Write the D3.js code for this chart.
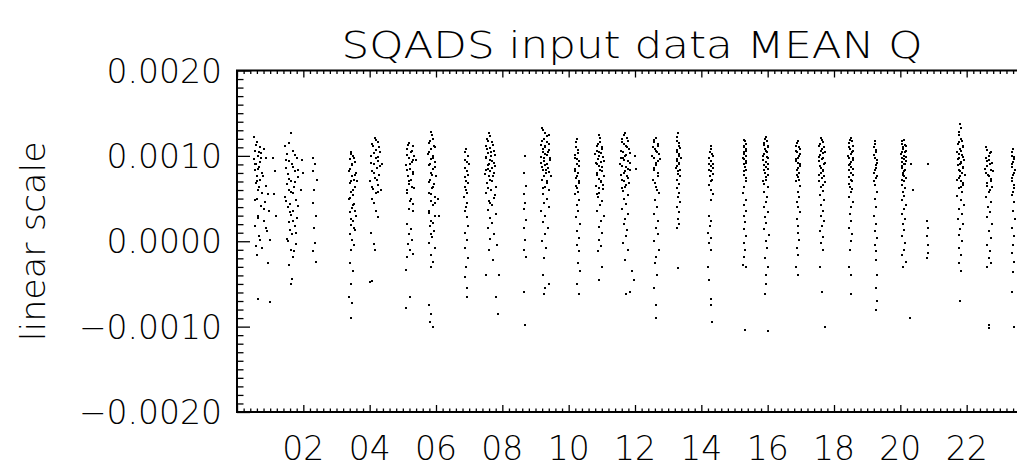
<!DOCTYPE html>
<html><head><meta charset="utf-8">
<script src="https://cdn.jsdelivr.net/npm/d3@7"></script>
<style>
html,body{margin:0;padding:0;background:#fff;overflow:hidden;}
svg{display:block;}
text{font-family:"DejaVu Sans",sans-serif;font-weight:200;fill:#000;}
</style></head>
<body><svg id="c" width="1017" height="473"></svg>
<script>
const titleText = "SQADS input data MEAN Q";
const yAxisTitle = "linear scale";
const yTickValues = [-0.0020, -0.0010, 0.0000, 0.0010, 0.0020];
const yTickLabels = ["\u22120.0020", "\u22120.0010", "0.0000", "0.0010", "0.0020"];
const xTickValues = [2, 4, 6, 8, 10, 12, 14, 16, 18, 20, 22];
const xTickLabels = ["02","04","06","08","10","12","14","16","18","20","22"];
const xDomain = [0, 24];
const yDomain = [-0.0020, 0.0020];

// [hour, value] per pass
const passA = [[0.52,0.00122],[0.60,0.00116],[0.68,0.00110],[0.55,0.00106],[0.73,0.00103],[0.63,0.00100],[0.50,0.00096],[0.70,0.00093],[0.58,0.00090],[0.66,0.00087],[0.54,0.00083],[0.75,0.00080],[0.61,0.00076],[0.69,0.00072],[0.56,0.00068],[0.88,0.00065],[0.64,0.00060],[0.92,0.00055],[0.59,0.00050],[0.85,0.00046],[0.71,0.00041],[0.95,0.00036],[0.62,0.00030],[0.82,0.00024],[0.53,0.00018],[0.90,0.00012],[0.67,0.00006],[0.98,0.00001],[0.76,-0.00008],[0.60,-0.00016],[0.93,-0.00026],[0.63,-0.00068],[0.99,-0.00071],[1.08,0.00098],[1.15,0.00082],[1.12,0.00055],[1.18,0.00030],[0.87,0.00098],[0.80,0.00108],
  [0.57,0.00113],[0.65,0.00105],[0.71,0.00098],[0.53,0.00091],[0.62,0.00085],[0.77,0.00077],[0.59,0.00071],[0.67,0.00064],[0.74,0.00057],[0.55,0.00048],[0.80,0.00038],[0.64,0.00027],[0.86,0.00015],[0.70,0.00002],[0.57,-0.00005]];
const passB = [[1.62,0.00127],[1.45,0.00112],[1.70,0.00106],[1.52,0.00102],[1.80,0.00098],[1.58,0.00094],[1.66,0.00090],[1.48,0.00086],[1.75,0.00082],[1.55,0.00079],[1.85,0.00075],[1.62,0.00071],[1.50,0.00067],[1.72,0.00064],[1.58,0.00060],[1.68,0.00056],[1.45,0.00052],[1.78,0.00048],[1.60,0.00044],[1.53,0.00040],[1.70,0.00036],[1.64,0.00031],[1.82,0.00027],[1.56,0.00022],[1.74,0.00018],[1.60,0.00013],[1.66,0.00008],[1.50,0.00003],[1.77,-0.00003],[1.62,-0.00010],[1.70,-0.00018],[1.58,-0.00028],[1.65,-0.00044],[1.64,-0.00050],[1.95,0.00095],[2.00,0.00080],[1.92,0.00060],
  [1.58,0.00115],[1.74,0.00101],[1.49,0.00095],[1.68,0.00087],[1.83,0.00083],[1.56,0.00073],[1.76,0.00069],[1.64,0.00058],[1.48,0.00047],[1.84,0.00041],[1.59,0.00034],[1.68,0.00024],[1.78,0.00010],[1.55,0.00000],[1.72,-0.00012]];
const passC = [[2.30,0.00098],[2.36,0.00090],[2.28,0.00082],[2.40,0.00072],[2.33,0.00060],[2.30,0.00045],[2.38,0.00030],[2.32,0.00015],[2.35,-0.00002],[2.30,-0.00012],[2.37,-0.00024]];
const passD = [[3.45,0.00105],[3.50,0.00100],[3.40,0.00096],[3.55,0.00093],[3.48,0.00089],[3.42,0.00085],[3.58,0.00080],[3.46,0.00076],[3.52,0.00072],[3.40,0.00068],[3.56,0.00063],[3.44,0.00058],[3.50,0.00054],[3.38,0.00049],[3.54,0.00044],[3.47,0.00039],[3.42,0.00034],[3.58,0.00029],[3.50,0.00024],[3.44,0.00019],[3.55,0.00013],[3.40,0.00008],[3.48,0.00002],[3.52,-0.00004],[3.45,-0.00010],[3.40,-0.00025],[3.50,-0.00035],[3.43,-0.00050],[3.38,-0.00065],[3.48,-0.00072],[3.45,-0.00090],[3.62,0.00070],
  [3.43,0.00102],[3.53,0.00097],[3.47,0.00091],[3.39,0.00082],[3.55,0.00078],[3.45,0.00070],[3.51,0.00060],[3.41,0.00051],[3.49,0.00042],[3.56,0.00036],[3.44,0.00026],[3.52,0.00016]];
const passE = [[4.15,0.00121],[4.25,0.00116],[4.10,0.00111],[4.20,0.00107],[4.30,0.00104],[4.05,0.00100],[4.18,0.00097],[4.26,0.00094],[4.12,0.00090],[4.22,0.00086],[4.08,0.00082],[4.28,0.00078],[4.16,0.00074],[4.02,0.00070],[4.24,0.00066],[4.10,0.00061],[4.20,0.00056],[4.06,0.00050],[4.18,0.00036],[4.25,0.00028],[4.05,0.00010],[4.12,-0.00003],[4.15,-0.00010],[4.02,-0.00048],[4.08,-0.00046],[4.38,0.00090],[4.35,0.00060],
  [4.20,0.00119],[4.08,0.00114],[4.28,0.00110],[4.14,0.00103],[4.24,0.00099],[4.04,0.00092],[4.30,0.00088],[4.14,0.00080],[4.22,0.00072],[4.08,0.00064],[4.26,0.00058],[4.12,0.00045]];
const passF = [[5.20,0.00115],[5.30,0.00112],[5.12,0.00108],[5.25,0.00104],[5.35,0.00100],[5.18,0.00097],[5.28,0.00093],[5.10,0.00089],[5.22,0.00085],[5.32,0.00081],[5.15,0.00077],[5.26,0.00072],[5.20,0.00067],[5.34,0.00062],[5.12,0.00056],[5.24,0.00050],[5.30,0.00044],[5.18,0.00038],[5.14,0.00020],[5.25,0.00014],[5.20,0.00008],[5.28,0.00002],[5.16,-0.00003],[5.22,-0.00010],[5.12,-0.00018],[5.30,-0.00015],[5.10,-0.00034],[5.22,-0.00065],[5.10,-0.00078],[5.40,0.00095],
  [5.16,0.00113],[5.28,0.00106],[5.14,0.00101],[5.32,0.00095],[5.22,0.00091],[5.12,0.00083],[5.30,0.00079],[5.18,0.00070],[5.28,0.00064],[5.14,0.00060],[5.22,0.00047],[5.32,0.00035]];
const passG = [[5.85,0.00128],[5.90,0.00120],[5.80,0.00115],[5.95,0.00112],[5.86,0.00108],[5.78,0.00104],[5.92,0.00100],[5.84,0.00096],[5.98,0.00093],[5.80,0.00089],[5.90,0.00085],[5.86,0.00080],[6.00,0.00076],[5.82,0.00072],[5.94,0.00067],[5.88,0.00062],[5.78,0.00057],[5.96,0.00052],[5.84,0.00047],[5.92,0.00042],[5.80,0.00036],[5.98,0.00030],[5.86,0.00024],[5.82,0.00018],[5.94,0.00012],[5.88,0.00005],[5.80,-0.00002],[5.96,-0.00008],[5.86,-0.00016],[5.92,-0.00024],[5.84,-0.00030],[5.80,-0.00075],[5.86,-0.00085],[5.82,-0.00095],[5.90,-0.00100],[6.05,0.00050],[6.08,0.00030],
  [5.88,0.00124],[5.82,0.00117],[5.97,0.00110],[5.76,0.00102],[5.90,0.00098],[5.82,0.00091],[5.96,0.00087],[5.88,0.00078],[5.78,0.00069],[5.92,0.00064],[5.84,0.00055],[5.98,0.00045],[5.80,0.00033],[5.90,0.00021],[5.84,0.00009]];
const passH = [[6.90,0.00108],[6.95,0.00100],[6.86,0.00095],[6.98,0.00090],[6.92,0.00082],[6.88,0.00075],[6.96,0.00068],[6.90,0.00060],[6.85,0.00052],[6.94,0.00045],[6.88,0.00036],[6.92,0.00028],[6.96,0.00018],[6.88,0.00010],[6.92,0.00002],[6.86,-0.00008],[6.95,-0.00020],[6.90,-0.00030],[6.88,-0.00042],[6.94,-0.00055],[6.92,-0.00065],
  [6.88,0.00104],[6.94,0.00093],[6.86,0.00086],[6.96,0.00078],[6.90,0.00071],[6.86,0.00064],[6.94,0.00056],[6.90,0.00040]];
const passI = [[7.60,0.00127],[7.55,0.00120],[7.68,0.00116],[7.50,0.00112],[7.62,0.00109],[7.74,0.00106],[7.58,0.00103],[7.66,0.00100],[7.52,0.00097],[7.70,0.00094],[7.60,0.00091],[7.78,0.00088],[7.56,0.00085],[7.64,0.00082],[7.48,0.00079],[7.72,0.00076],[7.62,0.00072],[7.55,0.00068],[7.80,0.00064],[7.66,0.00060],[7.52,0.00056],[7.74,0.00051],[7.60,0.00047],[7.68,0.00042],[7.58,0.00037],[7.82,0.00032],[7.64,0.00027],[7.70,0.00021],[7.56,0.00015],[7.76,0.00009],[7.62,0.00003],[7.84,-0.00004],[7.60,-0.00010],[7.72,-0.00022],[7.50,-0.00040],[7.90,-0.00040],[7.80,-0.00065],[7.88,-0.00085],
  [7.64,0.00123],[7.58,0.00118],[7.72,0.00113],[7.54,0.00108],[7.66,0.00105],[7.78,0.00101],[7.50,0.00099],[7.62,0.00095],[7.76,0.00092],[7.58,0.00089],[7.68,0.00086],[7.52,0.00083],[7.74,0.00080],[7.60,0.00077],[7.70,0.00070],[7.56,0.00062],[7.78,0.00054],[7.64,0.00045]];
const passJ = [[8.68,0.00100],[8.65,0.00080],[8.70,0.00065],[8.66,0.00055],[8.68,0.00045],[8.64,0.00038],[8.70,0.00025],[8.66,0.00015],[8.68,0.00002],[8.65,-0.00010],[8.70,-0.00018],[8.66,-0.00060],[8.68,-0.00098]];
const passK = [[9.20,0.00133],[9.28,0.00127],[9.40,0.00125],[9.25,0.00120],[9.35,0.00116],[9.18,0.00113],[9.30,0.00110],[9.42,0.00107],[9.22,0.00104],[9.34,0.00101],[9.26,0.00098],[9.45,0.00095],[9.16,0.00092],[9.30,0.00089],[9.38,0.00086],[9.24,0.00083],[9.32,0.00080],[9.48,0.00076],[9.20,0.00072],[9.36,0.00068],[9.28,0.00064],[9.42,0.00060],[9.22,0.00055],[9.34,0.00050],[9.26,0.00045],[9.40,0.00040],[9.18,0.00035],[9.30,0.00030],[9.24,0.00022],[9.38,0.00015],[9.28,0.00008],[9.20,0.00000],[9.32,-0.00008],[9.26,-0.00020],[9.22,-0.00040],[9.30,-0.00055],[9.25,-0.00062],[9.40,-0.00050],
  [9.24,0.00130],[9.34,0.00123],[9.20,0.00118],[9.40,0.00114],[9.28,0.00112],[9.22,0.00108],[9.38,0.00104],[9.30,0.00102],[9.18,0.00099],[9.44,0.00097],[9.26,0.00094],[9.36,0.00091],[9.20,0.00087],[9.32,0.00084],[9.42,0.00081],[9.26,0.00077],[9.34,0.00070],[9.22,0.00062]];
const passL = [[10.25,0.00120],[10.22,0.00110],[10.28,0.00103],[10.20,0.00098],[10.30,0.00094],[10.24,0.00090],[10.18,0.00085],[10.28,0.00080],[10.22,0.00074],[10.32,0.00068],[10.26,0.00062],[10.20,0.00055],[10.30,0.00048],[10.24,0.00042],[10.28,0.00035],[10.22,0.00028],[10.34,0.00020],[10.26,0.00012],[10.30,0.00004],[10.24,-0.00004],[10.32,-0.00012],[10.28,-0.00025],[10.34,-0.00035],[10.26,-0.00050],[10.30,-0.00062],
  [10.22,0.00116],[10.28,0.00107],[10.18,0.00101],[10.26,0.00096],[10.32,0.00088],[10.20,0.00082],[10.26,0.00077],[10.30,0.00071],[10.22,0.00065],[10.28,0.00058]];
const passM = [[10.90,0.00125],[10.95,0.00116],[10.85,0.00112],[11.00,0.00108],[10.92,0.00105],[10.80,0.00102],[11.05,0.00099],[10.88,0.00096],[10.98,0.00093],[10.84,0.00090],[11.02,0.00087],[10.94,0.00084],[10.86,0.00080],[11.08,0.00077],[10.90,0.00073],[10.98,0.00069],[10.82,0.00065],[11.04,0.00061],[10.92,0.00057],[10.88,0.00052],[11.00,0.00047],[10.94,0.00042],[10.86,0.00036],[11.06,0.00030],[10.96,0.00024],[10.90,0.00017],[11.02,0.00010],[10.92,0.00002],[10.98,-0.00005],[10.88,-0.00012],[11.00,-0.00030],[10.92,-0.00045],
  [10.94,0.00121],[10.88,0.00114],[11.02,0.00110],[10.84,0.00106],[10.96,0.00103],[10.90,0.00100],[11.06,0.00094],[10.82,0.00092],[10.92,0.00088],[11.00,0.00082],[10.86,0.00078],[10.96,0.00071],[11.04,0.00066],[10.90,0.00062],[10.84,0.00055]];
const passN = [[11.70,0.00127],[11.62,0.00120],[11.80,0.00118],[11.66,0.00114],[11.75,0.00110],[11.58,0.00106],[11.84,0.00103],[11.70,0.00100],[11.64,0.00097],[11.78,0.00094],[11.56,0.00090],[11.72,0.00087],[11.86,0.00084],[11.66,0.00080],[11.76,0.00076],[11.60,0.00072],[11.82,0.00068],[11.70,0.00064],[11.64,0.00059],[11.78,0.00054],[11.68,0.00049],[11.74,0.00044],[11.62,0.00038],[11.80,0.00032],[11.70,0.00026],[11.66,0.00020],[11.76,0.00013],[11.72,0.00006],[11.64,-0.00002],[11.80,-0.00010],[11.70,-0.00022],[11.90,-0.00035],[11.96,-0.00045],[11.85,-0.00060],[11.74,-0.00062],[12.00,0.00100],[12.04,0.00085],
  [11.66,0.00124],[11.76,0.00121],[11.60,0.00116],[11.72,0.00112],[11.82,0.00108],[11.64,0.00104],[11.74,0.00101],[11.58,0.00098],[11.68,0.00095],[11.84,0.00092],[11.62,0.00088],[11.78,0.00085],[11.70,0.00082],[11.58,0.00078],[11.80,0.00074],[11.66,0.00070],[11.74,0.00066],[11.62,0.00062]];
const passO = [[12.62,0.00121],[12.56,0.00116],[12.70,0.00112],[12.60,0.00108],[12.66,0.00104],[12.52,0.00100],[12.74,0.00096],[12.62,0.00092],[12.58,0.00086],[12.68,0.00080],[12.54,0.00072],[12.64,0.00064],[12.72,0.00056],[12.60,0.00048],[12.66,0.00040],[12.56,0.00032],[12.70,0.00024],[12.62,0.00016],[12.68,0.00008],[12.58,0.00000],[12.72,-0.00010],[12.64,-0.00018],[12.60,-0.00026],[12.66,-0.00040],[12.58,-0.00055],[12.62,-0.00075],[12.64,-0.00090],
  [12.58,0.00119],[12.68,0.00114],[12.54,0.00110],[12.64,0.00106],[12.72,0.00102],[12.58,0.00098],[12.68,0.00094],[12.62,0.00089],[12.56,0.00083],[12.70,0.00076],[12.60,0.00068],[12.66,0.00060]];
const passP = [[13.30,0.00127],[13.28,0.00118],[13.34,0.00112],[13.26,0.00107],[13.32,0.00102],[13.38,0.00098],[13.28,0.00094],[13.34,0.00090],[13.24,0.00086],[13.30,0.00082],[13.36,0.00077],[13.28,0.00072],[13.32,0.00067],[13.26,0.00062],[13.34,0.00057],[13.30,0.00052],[13.36,0.00046],[13.28,0.00040],[13.32,0.00034],[13.30,0.00026],[13.34,0.00020],[13.28,0.00015],[13.30,-0.00031],
  [13.26,0.00122],[13.32,0.00115],[13.36,0.00109],[13.28,0.00104],[13.34,0.00100],[13.26,0.00096],[13.32,0.00092],[13.28,0.00088],[13.36,0.00084],[13.30,0.00079]];
const passQ = [[14.30,0.00111],[14.25,0.00104],[14.34,0.00100],[14.28,0.00094],[14.22,0.00090],[14.36,0.00086],[14.30,0.00082],[14.26,0.00077],[14.32,0.00072],[14.24,0.00066],[14.30,0.00060],[14.34,0.00055],[14.28,0.00048],[14.22,0.00030],[14.30,0.00024],[14.26,0.00018],[14.20,0.00010],[14.28,0.00004],[14.22,-0.00002],[14.30,-0.00010],[14.20,-0.00030],[14.22,-0.00045],[14.28,-0.00068],[14.30,-0.00075],[14.32,-0.00095],
  [14.28,0.00108],[14.32,0.00102],[14.24,0.00097],[14.34,0.00091],[14.28,0.00088],[14.24,0.00084],[14.34,0.00079],[14.28,0.00070]];
const passR = [[15.30,0.00119],[15.34,0.00114],[15.28,0.00110],[15.36,0.00106],[15.30,0.00102],[15.26,0.00098],[15.34,0.00094],[15.30,0.00090],[15.36,0.00084],[15.28,0.00078],[15.34,0.00070],[15.30,0.00064],[15.26,0.00056],[15.34,0.00048],[15.30,0.00042],[15.36,0.00036],[15.28,0.00030],[15.32,0.00022],[15.30,0.00014],[15.34,0.00006],[15.28,-0.00002],[15.32,-0.00010],[15.30,-0.00018],[15.26,-0.00028],[15.36,-0.00030],[15.32,-0.00104],
  [15.32,0.00117],[15.28,0.00112],[15.36,0.00108],[15.30,0.00104],[15.34,0.00100],[15.28,0.00096],[15.36,0.00092],[15.32,0.00087],[15.28,0.00082],[15.34,0.00074]];
const passS = [[15.95,0.00122],[15.90,0.00115],[16.00,0.00112],[15.92,0.00108],[15.98,0.00104],[15.86,0.00100],[16.02,0.00097],[15.94,0.00093],[15.88,0.00089],[16.00,0.00085],[15.92,0.00080],[15.96,0.00075],[15.86,0.00070],[16.02,0.00064],[15.90,0.00058],[15.98,0.00052],[15.94,0.00046],[15.88,0.00040],[16.00,0.00034],[15.92,0.00028],[15.96,0.00021],[15.90,0.00014],[16.04,0.00007],[15.94,0.00000],[15.98,-0.00008],[15.92,-0.00020],[16.02,-0.00030],[15.94,-0.00040],[15.96,-0.00050],[15.92,-0.00062],[16.00,-0.00105],
  [15.92,0.00120],[15.98,0.00117],[15.88,0.00113],[16.02,0.00110],[15.94,0.00106],[15.90,0.00102],[15.98,0.00099],[15.86,0.00095],[16.00,0.00091],[15.94,0.00087],[15.90,0.00083],[16.02,0.00078],[15.96,0.00072],[15.88,0.00067]];
const passT = [[16.90,0.00117],[16.86,0.00112],[16.96,0.00108],[16.88,0.00104],[16.94,0.00100],[16.84,0.00096],[16.92,0.00092],[16.98,0.00088],[16.88,0.00084],[16.94,0.00080],[16.90,0.00075],[16.86,0.00070],[16.96,0.00065],[16.90,0.00058],[16.94,0.00052],[16.88,0.00046],[16.92,0.00040],[16.96,0.00034],[16.88,0.00026],[16.92,0.00018],[16.90,0.00010],[16.94,0.00002],[16.88,-0.00008],[16.92,-0.00016],[16.86,-0.00030],[16.90,-0.00040],
  [16.88,0.00115],[16.94,0.00110],[16.86,0.00106],[16.96,0.00102],[16.90,0.00098],[16.86,0.00094],[16.96,0.00090],[16.92,0.00086],[16.88,0.00078],[16.94,0.00072]];
const passU = [[17.60,0.00121],[17.68,0.00116],[17.56,0.00112],[17.64,0.00108],[17.72,0.00105],[17.58,0.00101],[17.66,0.00098],[17.54,0.00094],[17.70,0.00090],[17.62,0.00086],[17.68,0.00082],[17.56,0.00078],[17.64,0.00074],[17.72,0.00069],[17.60,0.00064],[17.66,0.00059],[17.58,0.00054],[17.70,0.00048],[17.62,0.00042],[17.66,0.00036],[17.60,0.00030],[17.70,0.00024],[17.64,0.00018],[17.58,0.00012],[17.68,0.00005],[17.62,-0.00002],[17.66,-0.00010],[17.58,-0.00030],[17.64,-0.00060],[17.72,-0.00100],
  [17.64,0.00119],[17.58,0.00114],[17.70,0.00110],[17.60,0.00106],[17.68,0.00103],[17.56,0.00099],[17.64,0.00096],[17.72,0.00092],[17.58,0.00088],[17.66,0.00084],[17.62,0.00080],[17.70,0.00076],[17.56,0.00071],[17.66,0.00066]];
const passV = [[18.50,0.00121],[18.45,0.00115],[18.56,0.00112],[18.48,0.00108],[18.54,0.00104],[18.42,0.00100],[18.58,0.00097],[18.50,0.00093],[18.46,0.00089],[18.56,0.00085],[18.50,0.00080],[18.44,0.00075],[18.54,0.00070],[18.48,0.00064],[18.52,0.00058],[18.46,0.00052],[18.56,0.00046],[18.50,0.00040],[18.48,0.00032],[18.52,0.00024],[18.46,0.00016],[18.54,0.00008],[18.50,0.00000],[18.48,-0.00010],[18.44,-0.00030],[18.52,-0.00040],[18.50,-0.00062],
  [18.48,0.00119],[18.54,0.00117],[18.44,0.00110],[18.58,0.00106],[18.50,0.00102],[18.46,0.00098],[18.56,0.00095],[18.48,0.00091],[18.52,0.00087],[18.44,0.00083],[18.58,0.00078],[18.50,0.00072],[18.46,0.00067],[18.54,0.00061]];
const passW = [[19.25,0.00117],[19.22,0.00110],[19.28,0.00104],[19.24,0.00098],[19.30,0.00092],[19.26,0.00086],[19.22,0.00080],[19.28,0.00074],[19.25,0.00066],[19.30,0.00058],[19.24,0.00050],[19.28,0.00040],[19.22,0.00030],[19.28,0.00020],[19.25,0.00012],[19.30,0.00004],[19.24,-0.00004],[19.28,-0.00012],[19.26,-0.00022],[19.30,-0.00040],[19.28,-0.00055],[19.30,-0.00070],[19.27,-0.00080],
  [19.24,0.00114],[19.28,0.00107],[19.22,0.00101],[19.30,0.00095],[19.26,0.00089],[19.24,0.00083],[19.30,0.00077],[19.22,0.00070]];
const passX = [[20.10,0.00119],[20.05,0.00114],[20.16,0.00111],[20.08,0.00108],[20.14,0.00105],[20.02,0.00102],[20.18,0.00099],[20.10,0.00096],[20.06,0.00093],[20.14,0.00090],[20.04,0.00086],[20.12,0.00082],[20.08,0.00078],[20.16,0.00074],[20.10,0.00070],[20.06,0.00066],[20.14,0.00062],[20.08,0.00058],[20.12,0.00053],[20.04,0.00048],[20.16,0.00043],[20.10,0.00038],[20.06,0.00032],[20.14,0.00026],[20.08,0.00020],[20.12,0.00013],[20.06,0.00006],[20.14,-0.00002],[20.10,-0.00010],[20.04,-0.00016],[20.16,-0.00024],[20.08,-0.00030],[20.32,0.00090],[20.38,0.00060],[20.30,-0.00090],
  [20.06,0.00117],[20.14,0.00113],[20.08,0.00110],[20.16,0.00106],[20.04,0.00104],[20.12,0.00100],[20.06,0.00097],[20.16,0.00094],[20.10,0.00091],[20.04,0.00088],[20.14,0.00084],[20.08,0.00080],[20.12,0.00076],[20.06,0.00072]];
const passY = [[20.84,0.00090],[20.80,0.00024],[20.84,0.00016],[20.80,0.00006],[20.84,-0.00004],[20.82,-0.00014],[20.80,-0.00020]];
const passZ = [[21.80,0.00137],[21.78,0.00128],[21.84,0.00120],[21.76,0.00116],[21.88,0.00112],[21.80,0.00108],[21.72,0.00104],[21.86,0.00101],[21.78,0.00098],[21.92,0.00095],[21.82,0.00092],[21.74,0.00089],[21.88,0.00086],[21.80,0.00082],[21.94,0.00078],[21.76,0.00074],[21.84,0.00070],[21.90,0.00066],[21.78,0.00062],[21.86,0.00058],[21.72,0.00053],[21.82,0.00048],[21.92,0.00043],[21.78,0.00038],[21.86,0.00032],[21.74,0.00026],[21.88,0.00020],[21.80,0.00014],[21.76,0.00007],[21.86,0.00000],[21.78,-0.00008],[21.84,-0.00016],[21.76,-0.00026],[21.82,-0.00035],[21.80,-0.00070],
  [21.82,0.00133],[21.76,0.00124],[21.86,0.00118],[21.74,0.00114],[21.90,0.00110],[21.82,0.00106],[21.78,0.00102],[21.88,0.00099],[21.74,0.00096],[21.84,0.00093],[21.80,0.00090],[21.90,0.00087],[21.76,0.00084],[21.86,0.00080],[21.80,0.00076],[21.72,0.00072],[21.88,0.00068],[21.82,0.00064]];
const passAA = [[22.58,0.00110],[22.66,0.00100],[22.74,0.00105],[22.60,0.00094],[22.70,0.00090],[22.56,0.00085],[22.78,0.00082],[22.64,0.00078],[22.72,0.00073],[22.60,0.00068],[22.76,0.00063],[22.66,0.00058],[22.58,0.00052],[22.74,0.00046],[22.64,0.00040],[22.70,0.00034],[22.60,0.00028],[22.76,0.00020],[22.66,0.00012],[22.72,0.00004],[22.62,-0.00004],[22.70,-0.00012],[22.66,-0.00020],[22.74,-0.00026],[22.60,-0.00030],[22.68,-0.00098],[22.66,-0.00102],
  [22.62,0.00107],[22.70,0.00103],[22.58,0.00098],[22.68,0.00095],[22.76,0.00092],[22.62,0.00088],[22.72,0.00084],[22.58,0.00080],[22.68,0.00076],[22.74,0.00070],[22.62,0.00065],[22.70,0.00060]];
const passAB = [[23.40,0.00108],[23.36,0.00100],[23.44,0.00096],[23.38,0.00090],[23.46,0.00084],[23.40,0.00078],[23.36,0.00070],[23.44,0.00062],[23.38,0.00054],[23.42,0.00046],[23.40,0.00036],[23.46,0.00026],[23.38,0.00016],[23.44,0.00006],[23.40,-0.00004],[23.36,-0.00014],[23.44,-0.00024],[23.40,-0.00036],[23.38,-0.00060],[23.42,-0.00100],
  [23.38,0.00104],[23.44,0.00099],[23.40,0.00093],[23.36,0.00087],[23.44,0.00080],[23.38,0.00074],[23.42,0.00066],[23.40,0.00058]];

const passes = [passA,passB,passC,passD,passE,passF,passG,passH,passI,passJ,passK,passL,passM,passN,passO,passP,passQ,passR,passS,passT,passU,passV,passW,passX,passY,passZ,passAA,passAB];
const points = passes.flat();

const plot = {left:237, right:1033, top:70.5, bottom:412};
const svg = d3.select("#c");
const x = d3.scaleLinear().domain(xDomain).range([plot.left, plot.right]);
const y = d3.scaleLinear().domain(yDomain).range([plot.bottom, plot.top]);

// points
svg.append("g").selectAll("rect").data(points).join("rect")
  .attr("x", d => Math.round(x(d[0])) - 1)
  .attr("y", d => Math.round(y(d[1])) - 1)
  .attr("width", 2).attr("height", 2).attr("fill", "#000");

// axes with IDL-style ticks (major + minor) on all four sides
const xMinor = d3.range(0, 24.001, 0.2).filter(v => Math.abs(v/2 - Math.round(v/2)) > 1e-6);
const xMajor = d3.range(0, 24.001, 2);
const yMinor = d3.range(-0.0020, 0.00201, 0.0001).filter(v => Math.abs(v/0.001 - Math.round(v/0.001)) > 1e-6);

function addAxis(axisFn, scale, ticks, len, transform) {
  const g = svg.append("g").attr("transform", transform)
    .call(axisFn(scale).tickValues(ticks).tickSize(len).tickFormat(""));
  g.select(".domain").remove();
  g.selectAll(".tick line").attr("stroke", "#000").attr("stroke-width", 1.3);
  return g;
}
addAxis(d3.axisTop, x, xMajor, 7, `translate(0,${plot.bottom})`);
addAxis(d3.axisTop, x, xMinor, 3.5, `translate(0,${plot.bottom})`);
addAxis(d3.axisBottom, x, xMajor, 7, `translate(0,${plot.top})`);
addAxis(d3.axisBottom, x, xMinor, 3.5, `translate(0,${plot.top})`);
addAxis(d3.axisRight, y, yTickValues, 13, `translate(${plot.left},0)`);
addAxis(d3.axisRight, y, yMinor, 6.5, `translate(${plot.left},0)`);
addAxis(d3.axisLeft, y, yTickValues, 13, `translate(${plot.right},0)`);
addAxis(d3.axisLeft, y, yMinor, 6.5, `translate(${plot.right},0)`);

// frame
svg.append("rect").attr("x", plot.left).attr("y", plot.top)
  .attr("width", plot.right - plot.left).attr("height", plot.bottom - plot.top)
  .attr("fill", "none").attr("stroke", "#000").attr("stroke-width", 2);

// tick labels
svg.append("g").selectAll("text").data(yTickValues).join("text")
  .attr("x", 222).attr("y", d => y(d) + 12)
  .attr("text-anchor", "end").attr("font-size", 33)
  .text((d, i) => yTickLabels[i]);
svg.append("g").selectAll("text").data(xTickValues).join("text")
  .attr("x", d => x(d)).attr("y", 460)
  .attr("text-anchor", "middle").attr("font-size", 33)
  .text((d, i) => xTickLabels[i]);

// title
svg.append("text").attr("x", 632).attr("y", 58)
  .attr("text-anchor", "middle").attr("font-size", 38)
  .attr("textLength", 581).attr("lengthAdjust", "spacingAndGlyphs")
  .text(titleText);

// y axis title
svg.append("text").attr("transform", `translate(45,${(plot.top+plot.bottom)/2}) rotate(-90)`)
  .attr("text-anchor", "middle").attr("font-size", 33)
  .attr("textLength", 200).attr("lengthAdjust", "spacingAndGlyphs")
  .text(yAxisTitle);
</script></body></html>
